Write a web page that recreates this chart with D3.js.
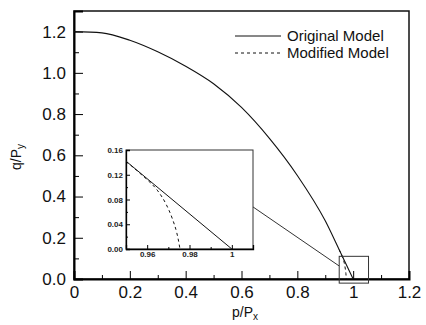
<!DOCTYPE html>
<html>
<head>
<meta charset="utf-8">
<script src="https://cdn.jsdelivr.net/npm/d3@7"></script>
<style>
  body { margin: 0; background: #fff; }
  svg { display: block; font-family: "Liberation Sans", Arial, sans-serif; }
</style>
</head>
<body>
<svg id="chart" width="426" height="325"></svg>
<script>
// values
orig_p = [0, 0.1, 0.2, 0.3, 0.4, 0.5, 0.6, 0.7, 0.8, 0.9, 0.95, 1.0];
orig_q = [1.2, 1.194, 1.158, 1.102, 1.032, 0.947, 0.832, 0.682, 0.502, 0.282, 0.142, 0.0];
mod_tail_p = [0.955, 0.96, 0.965, 0.969, 0.972, 0.974, 0.975, 0.9755];
mod_tail_q = [0.127, 0.112, 0.094, 0.072, 0.048, 0.026, 0.01, 0.0];
x_ticks = [0, 0.2, 0.4, 0.6, 0.8, 1.0, 1.2];
y_ticks = [0, 0.2, 0.4, 0.6, 0.8, 1.0, 1.2];
inset_x_ticks = [0.96, 0.98, 1.0];
inset_y_ticks = [0, 0.04, 0.08, 0.12, 0.16];
legend_names = ["Original Model", "Modified Model"];

var original = orig_p.map((p, i) => ({ p: p, q: orig_q[i] }));
var modified = original.filter(d => d.p <= 0.95).concat(mod_tail_p.map((p, i) => ({ p: p, q: mod_tail_q[i] })));

var svg = d3.select("#chart");
var x = d3.scaleLinear().domain([0, 1.2]).range([74, 409]);
var y = d3.scaleLinear().domain([0, 1.3]).range([279, 11]);

var line = d3.line().x(d => x(d.p)).y(d => y(d.q)).curve(d3.curveMonotoneX);

// frame
svg.append("rect").attr("x", 74).attr("y", 11).attr("width", 335).attr("height", 268)
    .attr("fill", "none").attr("stroke", "#111").attr("stroke-width", 1.5);

// minor ticks
svg.append("g").attr("transform", "translate(74,0)")
    .call(d3.axisLeft(y).tickValues(d3.range(0.1, 1.25, 0.2)).tickSize(-5).tickFormat(""))
    .call(g => g.select(".domain").remove());
svg.append("g").attr("transform", "translate(0,279)")
    .call(d3.axisBottom(x).tickValues(d3.range(0.1, 1.15, 0.2)).tickSize(-4).tickFormat(""))
    .call(g => g.select(".domain").remove());

// major axes
svg.append("g").attr("transform", "translate(74,0)")
    .call(d3.axisLeft(y).tickValues(y_ticks).tickSize(-9).tickPadding(8).tickFormat(d3.format(".1f")))
    .call(g => g.select(".domain").attr("stroke-width", 2))
    .call(g => g.selectAll("text").attr("font-size", 17).attr("font-family", "Liberation Sans, Arial").attr("fill", "#111"));
svg.append("g").attr("transform", "translate(0,279)")
    .call(d3.axisBottom(x).tickValues(x_ticks).tickSize(-8).tickPadding(7).tickFormat(d3.format("~g")))
    .call(g => g.select(".domain").attr("stroke-width", 2))
    .call(g => g.selectAll("text").attr("font-size", 17).attr("font-family", "Liberation Sans, Arial").attr("fill", "#111"));

// curves (modified only shown where it leaves the original)
svg.append("path").datum(original).attr("d", line)
    .attr("fill", "none").attr("stroke", "#111").attr("stroke-width", 1.1);
svg.append("path").datum(modified.filter(d => d.p >= 0.95)).attr("d", line)
    .attr("fill", "none").attr("stroke", "#111").attr("stroke-width", 1).attr("stroke-dasharray", "3,3");

// zoom box around (1,0)
svg.append("rect").attr("x", x(0.95)).attr("y", y(0.11))
    .attr("width", x(1.055) - x(0.95)).attr("height", y(-0.02) - y(0.11))
    .attr("fill", "none").attr("stroke", "#333").attr("stroke-width", 1);

// inset
var ix = d3.scaleLinear().domain([0.95, 1.01]).range([126, 253]);
var iy = d3.scaleLinear().domain([0, 0.16]).range([249, 150]);
var iline = d3.line().x(d => ix(d.p)).y(d => iy(d.q)).curve(d3.curveMonotoneX);

svg.append("line").attr("x1", 253).attr("y1", iy(0.068)).attr("x2", x(0.95)).attr("y2", y(0.063))
    .attr("stroke", "#333").attr("stroke-width", 1);

svg.append("rect").attr("x", 126).attr("y", 150).attr("width", 127).attr("height", 99)
    .attr("fill", "#fff").attr("stroke", "#333").attr("stroke-width", 1);

svg.append("g").attr("transform", "translate(126,0)")
    .call(d3.axisLeft(iy).tickValues(d3.range(0.02, 0.16, 0.04)).tickSize(-2).tickFormat(""))
    .call(g => g.select(".domain").remove());
svg.append("g").attr("transform", "translate(0,249)")
    .call(d3.axisBottom(ix).tickValues([0.97, 0.99]).tickSize(-2).tickFormat(""))
    .call(g => g.select(".domain").remove());
svg.append("g").attr("transform", "translate(126,0)")
    .call(d3.axisLeft(iy).tickValues(inset_y_ticks).tickSize(-4).tickPadding(3).tickFormat(d3.format(".2f")))
    .call(g => g.select(".domain").attr("stroke-width", 1.3))
    .call(g => g.selectAll("text").attr("font-size", 8).attr("font-weight", "bold").attr("font-family", "Liberation Sans, Arial").attr("fill", "#222"));
svg.append("g").attr("transform", "translate(0,249)")
    .call(d3.axisBottom(ix).tickValues(inset_x_ticks).tickSize(-4).tickPadding(2).tickFormat(d3.format("~g")))
    .call(g => g.select(".domain").attr("stroke-width", 1.3))
    .call(g => g.selectAll("text").attr("font-size", 8).attr("font-weight", "bold").attr("font-family", "Liberation Sans, Arial").attr("fill", "#222"));

var inset_orig = original.filter(d => d.p >= 0.95);
var inset_mod = modified.filter(d => d.p >= 0.95);
svg.append("path").datum(inset_orig).attr("d", iline)
    .attr("fill", "none").attr("stroke", "#111").attr("stroke-width", 1);
svg.append("path").datum(inset_mod).attr("d", iline)
    .attr("fill", "none").attr("stroke", "#111").attr("stroke-width", 1).attr("stroke-dasharray", "3,3");

// legend
legend_names.forEach(function (name, i) {
    var ly = 36 + i * 17;
    svg.append("line").attr("x1", 235).attr("x2", 281).attr("y1", ly).attr("y2", ly)
        .attr("stroke", "#111").attr("stroke-width", 1)
        .attr("stroke-dasharray", i === 1 ? "3,3" : null);
    svg.append("text").attr("x", 287).attr("y", ly).attr("dy", "0.35em")
        .attr("font-size", 15).attr("fill", "#111").text(name);
});

// axis titles
var xt = svg.append("text").attr("x", 245).attr("y", 317).attr("text-anchor", "middle")
    .attr("font-size", 14).attr("fill", "#111");
xt.append("tspan").text("p/P");
xt.append("tspan").attr("font-size", 10).attr("dy", 3).text("x");

var yt = svg.append("text").attr("transform", "translate(21,157) rotate(-90)").attr("text-anchor", "middle")
    .attr("font-size", 14).attr("fill", "#111");
yt.append("tspan").text("q/P");
yt.append("tspan").attr("font-size", 10).attr("dy", 3).text("y");
</script>
</body>
</html>
